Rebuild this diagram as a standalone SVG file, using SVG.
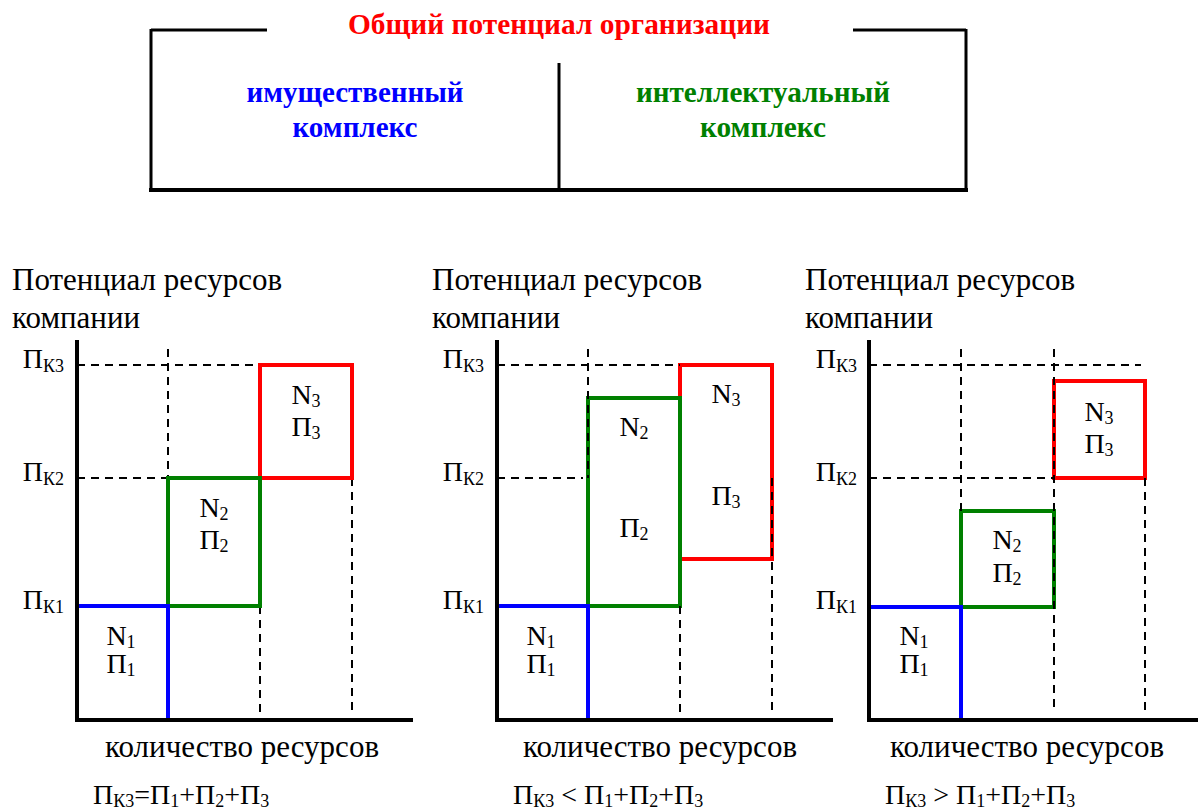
<svg xmlns="http://www.w3.org/2000/svg" width="1198" height="809" viewBox="0 0 1198 809">
<style>
.ax{stroke:#000;stroke-width:4;fill:none}
.d{stroke:#000;stroke-width:2;stroke-dasharray:8,6;fill:none}
.bl{stroke:#0000ff;stroke-width:4;fill:none}
.gr{stroke:#008000;stroke-width:4;fill:none}
.rd{stroke:#ff0000;stroke-width:4;fill:none}
</style>
<rect width="1198" height="809" fill="#fff"/>

<g id="top-box">
<path d="M151,30 H267 M853,30 H966" stroke="#000" stroke-width="3" fill="none"/>
<path d="M151,29 V190 M966,29 V190" stroke="#000" stroke-width="3" fill="none"/>
<path d="M149,190 H968" stroke="#000" stroke-width="4"/>
<path d="M559,63 V192" stroke="#000" stroke-width="3"/>
<text x="559" y="34" style="font-family:'Liberation Serif',serif;font-size:30px;font-weight:bold" text-anchor="middle" fill="#ff0000" textLength="422" lengthAdjust="spacingAndGlyphs">Общий потенциал организации</text>
<text x="355" y="102" style="font-family:'Liberation Serif',serif;font-size:30px;font-weight:bold" text-anchor="middle" fill="#0000ff" textLength="217" lengthAdjust="spacingAndGlyphs">имущественный</text>
<text x="355" y="137" style="font-family:'Liberation Serif',serif;font-size:30px;font-weight:bold" text-anchor="middle" fill="#0000ff" textLength="125" lengthAdjust="spacingAndGlyphs">комплекс</text>
<text x="763" y="102" style="font-family:'Liberation Serif',serif;font-size:30px;font-weight:bold" text-anchor="middle" fill="#008000" textLength="254" lengthAdjust="spacingAndGlyphs">интеллектуальный</text>
<text x="763" y="137" style="font-family:'Liberation Serif',serif;font-size:30px;font-weight:bold" text-anchor="middle" fill="#008000" textLength="126" lengthAdjust="spacingAndGlyphs">комплекс</text>
</g>

<g id="chart1">
<text x="12" y="290" style="font-family:'Liberation Serif',serif;font-size:31px">Потенциал ресурсов</text>
<text x="12" y="328" style="font-family:'Liberation Serif',serif;font-size:31px">компании</text>
<text x="64" y="368" style="font-family:'Liberation Serif',serif;font-size:28px" text-anchor="end">П<tspan font-size="18" dy="4">К3</tspan></text>
<text x="64" y="481" style="font-family:'Liberation Serif',serif;font-size:28px" text-anchor="end">П<tspan font-size="18" dy="4">К2</tspan></text>
<text x="64" y="609" style="font-family:'Liberation Serif',serif;font-size:28px" text-anchor="end">П<tspan font-size="18" dy="4">К1</tspan></text>
<g id="c1-lines">
<path class="d" d="M77,365 H260 M77,478 H168 M168,349 V478 M260,606 V712 M352,478 V712"/>
<path class="rd" d="M260,365 H352 V478 H260 Z"/>
<path class="gr" d="M168,478 H260 V606 H168 Z"/>
<path class="bl" d="M77,606 H168 V720"/>
<path class="ax" d="M77,340 V720 H413"/>
</g>
<text x="121" y="645" style="font-family:'Liberation Serif',serif;font-size:28px" text-anchor="middle">N<tspan font-size="18" dy="3">1</tspan></text>
<text x="121" y="673" style="font-family:'Liberation Serif',serif;font-size:28px" text-anchor="middle">П<tspan font-size="18" dy="3">1</tspan></text>
<text x="214" y="517" style="font-family:'Liberation Serif',serif;font-size:28px" text-anchor="middle">N<tspan font-size="18" dy="3">2</tspan></text>
<text x="214" y="549" style="font-family:'Liberation Serif',serif;font-size:28px" text-anchor="middle">П<tspan font-size="18" dy="3">2</tspan></text>
<text x="306" y="404" style="font-family:'Liberation Serif',serif;font-size:28px" text-anchor="middle">N<tspan font-size="18" dy="3">3</tspan></text>
<text x="306" y="436" style="font-family:'Liberation Serif',serif;font-size:28px" text-anchor="middle">П<tspan font-size="18" dy="3">3</tspan></text>
<text x="105" y="757" style="font-family:'Liberation Serif',serif;font-size:31px">количество ресурсов</text>
<text x="93" y="804" style="font-family:'Liberation Serif',serif;font-size:28px">П<tspan font-size="18" dy="3">К3</tspan><tspan dy="-3">=П</tspan><tspan font-size="18" dy="3">1</tspan><tspan dy="-3">+П</tspan><tspan font-size="18" dy="3">2</tspan><tspan dy="-3">+П</tspan><tspan font-size="18" dy="3">3</tspan></text>
</g>

<g id="chart2">
<text x="432" y="290" style="font-family:'Liberation Serif',serif;font-size:31px">Потенциал ресурсов</text>
<text x="432" y="328" style="font-family:'Liberation Serif',serif;font-size:31px">компании</text>
<text x="484" y="368" style="font-family:'Liberation Serif',serif;font-size:28px" text-anchor="end">П<tspan font-size="18" dy="4">К3</tspan></text>
<text x="484" y="481" style="font-family:'Liberation Serif',serif;font-size:28px" text-anchor="end">П<tspan font-size="18" dy="4">К2</tspan></text>
<text x="484" y="609" style="font-family:'Liberation Serif',serif;font-size:28px" text-anchor="end">П<tspan font-size="18" dy="4">К1</tspan></text>
<g id="c2-lines">
<path class="rd" d="M680,365 H772 V559 H680 Z"/>
<path class="gr" d="M588,398 H680 V606 H588 Z"/>
<path class="bl" d="M497,606 H588 V720"/>
<path class="d" d="M497,365 H680 M497,478 H583 M588,349 V478 M680,606 V712 M772,478 V712"/>
<path class="ax" d="M497,340 V720 H833"/>
</g>
<text x="541" y="645" style="font-family:'Liberation Serif',serif;font-size:28px" text-anchor="middle">N<tspan font-size="18" dy="3">1</tspan></text>
<text x="541" y="673" style="font-family:'Liberation Serif',serif;font-size:28px" text-anchor="middle">П<tspan font-size="18" dy="3">1</tspan></text>
<text x="634" y="436" style="font-family:'Liberation Serif',serif;font-size:28px" text-anchor="middle">N<tspan font-size="18" dy="3">2</tspan></text>
<text x="634" y="537" style="font-family:'Liberation Serif',serif;font-size:28px" text-anchor="middle">П<tspan font-size="18" dy="3">2</tspan></text>
<text x="726" y="403" style="font-family:'Liberation Serif',serif;font-size:28px" text-anchor="middle">N<tspan font-size="18" dy="3">3</tspan></text>
<text x="726" y="505" style="font-family:'Liberation Serif',serif;font-size:28px" text-anchor="middle">П<tspan font-size="18" dy="3">3</tspan></text>
<text x="523" y="757" style="font-family:'Liberation Serif',serif;font-size:31px">количество ресурсов</text>
<text x="513" y="804" style="font-family:'Liberation Serif',serif;font-size:28px">П<tspan font-size="18" dy="3">К3</tspan><tspan dy="-3"> &lt; П</tspan><tspan font-size="18" dy="3">1</tspan><tspan dy="-3">+П</tspan><tspan font-size="18" dy="3">2</tspan><tspan dy="-3">+П</tspan><tspan font-size="18" dy="3">3</tspan></text>
</g>

<g id="chart3">
<text x="805" y="290" style="font-family:'Liberation Serif',serif;font-size:31px">Потенциал ресурсов</text>
<text x="805" y="328" style="font-family:'Liberation Serif',serif;font-size:31px">компании</text>
<text x="857" y="368" style="font-family:'Liberation Serif',serif;font-size:28px" text-anchor="end">П<tspan font-size="18" dy="4">К3</tspan></text>
<text x="857" y="481" style="font-family:'Liberation Serif',serif;font-size:28px" text-anchor="end">П<tspan font-size="18" dy="4">К2</tspan></text>
<text x="857" y="609" style="font-family:'Liberation Serif',serif;font-size:28px" text-anchor="end">П<tspan font-size="18" dy="4">К1</tspan></text>
<g id="c3-lines">
<path class="rd" d="M1054,381 H1145 V478 H1054 Z"/>
<path class="gr" d="M961,511 H1054 V607 H961 Z"/>
<path class="bl" d="M869,607 H961 V720"/>
<path class="d" d="M869,365 H1141 M869,478 H1054 M961,349 V511 M1054,349 V712 M1145,478 V712"/>
<path class="ax" d="M869,340 V720 H1198"/>
</g>
<text x="914" y="645" style="font-family:'Liberation Serif',serif;font-size:28px" text-anchor="middle">N<tspan font-size="18" dy="3">1</tspan></text>
<text x="914" y="673" style="font-family:'Liberation Serif',serif;font-size:28px" text-anchor="middle">П<tspan font-size="18" dy="3">1</tspan></text>
<text x="1007" y="549" style="font-family:'Liberation Serif',serif;font-size:28px" text-anchor="middle">N<tspan font-size="18" dy="3">2</tspan></text>
<text x="1007" y="582" style="font-family:'Liberation Serif',serif;font-size:28px" text-anchor="middle">П<tspan font-size="18" dy="3">2</tspan></text>
<text x="1099" y="421" style="font-family:'Liberation Serif',serif;font-size:28px" text-anchor="middle">N<tspan font-size="18" dy="3">3</tspan></text>
<text x="1099" y="453" style="font-family:'Liberation Serif',serif;font-size:28px" text-anchor="middle">П<tspan font-size="18" dy="3">3</tspan></text>
<text x="890" y="757" style="font-family:'Liberation Serif',serif;font-size:31px">количество ресурсов</text>
<text x="885" y="804" style="font-family:'Liberation Serif',serif;font-size:28px">П<tspan font-size="18" dy="3">К3</tspan><tspan dy="-3"> &gt; П</tspan><tspan font-size="18" dy="3">1</tspan><tspan dy="-3">+П</tspan><tspan font-size="18" dy="3">2</tspan><tspan dy="-3">+П</tspan><tspan font-size="18" dy="3">3</tspan></text>
</g>
</svg>
